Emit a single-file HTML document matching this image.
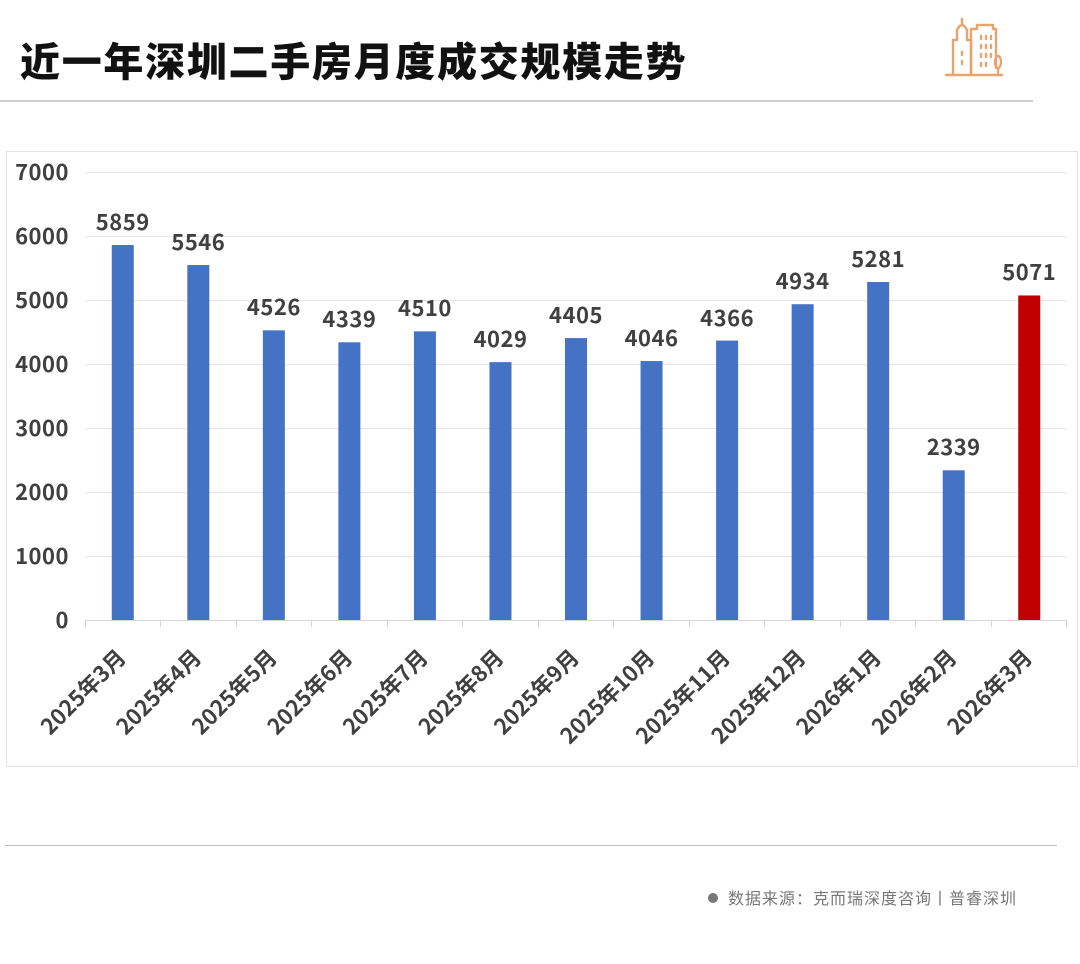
<!DOCTYPE html>
<html><head><meta charset="utf-8">
<style>
html,body{margin:0;padding:0;background:#fff;}
svg{display:block;}
text{font-family:"Liberation Sans","Noto Sans CJK SC",sans-serif;}
.cjk{font-family:"Noto Sans CJK SC","WenQuanYi Zen Hei",sans-serif;}
</style></head>
<body>
<svg width="1080" height="964" viewBox="0 0 1080 964" xmlns="http://www.w3.org/2000/svg">
<rect width="1080" height="964" fill="#fff"/>
<!-- title -->
<text class="cjk" x="20" y="76" font-size="40" font-weight="900" fill="#111" letter-spacing="1.7">近一年深圳二手房月度成交规模走势</text>
<line x1="0" y1="101" x2="1033" y2="101" stroke="#cfcfcf" stroke-width="2"/>
<!-- icon -->
<g fill="none" stroke="#E9A36C" stroke-width="2.4" stroke-linejoin="round" stroke-linecap="round">
<line x1="946" y1="75" x2="1002" y2="75"/>
<path d="M953 75 V40 H957 V30 Q962 20 967 30 V40 H971 V75"/>
<line x1="962" y1="19" x2="962" y2="24"/>
<path d="M971 75 V29 H977 V25 H993 V29 H996 V68"/>
<line x1="962" y1="52" x2="962" y2="55"/><line x1="962" y1="61" x2="962" y2="64"/>
<line x1="981" y1="36" x2="981" y2="39"/><line x1="986" y1="36" x2="986" y2="39"/><line x1="991" y1="36" x2="991" y2="39"/>
<line x1="981" y1="45" x2="981" y2="48"/><line x1="986" y1="45" x2="986" y2="48"/><line x1="991" y1="45" x2="991" y2="48"/>
<line x1="981" y1="54" x2="981" y2="57"/><line x1="986" y1="54" x2="986" y2="57"/><line x1="991" y1="54" x2="991" y2="57"/>
<line x1="981" y1="63" x2="981" y2="66"/><line x1="986" y1="63" x2="986" y2="66"/>
<ellipse cx="998" cy="62" rx="3" ry="6"/><line x1="998" y1="68" x2="998" y2="75"/>
</g>
<!-- chart frame -->
<rect x="6.5" y="151.5" width="1071" height="615" fill="none" stroke="#e2e2e2" stroke-width="1"/>
<!-- gridlines -->
<g stroke="#e6e6e6" stroke-width="1">
<line x1="85" y1="172.5" x2="1067" y2="172.5"/>
<line x1="85" y1="236.5" x2="1067" y2="236.5"/>
<line x1="85" y1="300.5" x2="1067" y2="300.5"/>
<line x1="85" y1="364.5" x2="1067" y2="364.5"/>
<line x1="85" y1="428.5" x2="1067" y2="428.5"/>
<line x1="85" y1="492.5" x2="1067" y2="492.5"/>
<line x1="85" y1="556.5" x2="1067" y2="556.5"/>
</g>
<!-- y labels -->
<g font-size="22" font-weight="700" fill="#404040" text-anchor="end" class="cjk" letter-spacing="0.5">
<text class="cjk" x="69" y="180">7000</text>
<text class="cjk" x="69" y="244">6000</text>
<text class="cjk" x="69" y="308">5000</text>
<text class="cjk" x="69" y="372">4000</text>
<text class="cjk" x="69" y="436">3000</text>
<text class="cjk" x="69" y="500">2000</text>
<text class="cjk" x="69" y="564">1000</text>
<text class="cjk" x="69" y="628">0</text>
</g>
<!-- bars -->
<g fill="#4472C4">
<rect x="111.77" y="245.02" width="22" height="374.98"/>
<rect x="187.31" y="265.06" width="22" height="354.94"/>
<rect x="262.85" y="330.34" width="22" height="289.66"/>
<rect x="338.39" y="342.30" width="22" height="277.70"/>
<rect x="413.93" y="331.36" width="22" height="288.64"/>
<rect x="489.47" y="362.14" width="22" height="257.86"/>
<rect x="565.01" y="338.08" width="22" height="281.92"/>
<rect x="640.55" y="361.06" width="22" height="258.94"/>
<rect x="716.09" y="340.58" width="22" height="279.42"/>
<rect x="791.63" y="304.22" width="22" height="315.78"/>
<rect x="867.17" y="282.02" width="22" height="337.98"/>
<rect x="942.71" y="470.30" width="22" height="149.70"/>
</g>
<rect x="1018.25" y="295.46" width="22" height="324.54" fill="#C00000"/>
<!-- axis -->
<line x1="85" y1="620.5" x2="1067" y2="620.5" stroke="#d6d6d6" stroke-width="1"/>
<g stroke="#d6d6d6" stroke-width="1">
<line x1="85.5" y1="620" x2="85.5" y2="627"/>
<line x1="160.5" y1="620" x2="160.5" y2="627"/>
<line x1="236.5" y1="620" x2="236.5" y2="627"/>
<line x1="311.5" y1="620" x2="311.5" y2="627"/>
<line x1="387.5" y1="620" x2="387.5" y2="627"/>
<line x1="462.5" y1="620" x2="462.5" y2="627"/>
<line x1="538.5" y1="620" x2="538.5" y2="627"/>
<line x1="613.5" y1="620" x2="613.5" y2="627"/>
<line x1="689.5" y1="620" x2="689.5" y2="627"/>
<line x1="764.5" y1="620" x2="764.5" y2="627"/>
<line x1="840.5" y1="620" x2="840.5" y2="627"/>
<line x1="915.5" y1="620" x2="915.5" y2="627"/>
<line x1="991.5" y1="620" x2="991.5" y2="627"/>
<line x1="1066.5" y1="620" x2="1066.5" y2="627"/>
</g>
<!-- data labels -->
<g font-size="22" font-weight="700" fill="#404040" text-anchor="middle" letter-spacing="0.5">
<text class="cjk" x="122.77" y="230">5859</text>
<text class="cjk" x="198.31" y="250">5546</text>
<text class="cjk" x="273.85" y="315">4526</text>
<text class="cjk" x="349.39" y="327">4339</text>
<text class="cjk" x="424.93" y="316">4510</text>
<text class="cjk" x="500.47" y="347">4029</text>
<text class="cjk" x="576.01" y="323">4405</text>
<text class="cjk" x="651.55" y="346">4046</text>
<text class="cjk" x="727.09" y="326">4366</text>
<text class="cjk" x="802.63" y="289">4934</text>
<text class="cjk" x="878.17" y="267">5281</text>
<text class="cjk" x="953.71" y="455">2339</text>
<text class="cjk" x="1029.25" y="280">5071</text>
</g>
<!-- x labels -->
<g font-size="22" font-weight="700" fill="#404040" text-anchor="end">
<text class="cjk" transform="translate(127.3,659) rotate(-45)">2025年3月</text>
<text class="cjk" transform="translate(202.8,659) rotate(-45)">2025年4月</text>
<text class="cjk" transform="translate(278.4,659) rotate(-45)">2025年5月</text>
<text class="cjk" transform="translate(353.9,659) rotate(-45)">2025年6月</text>
<text class="cjk" transform="translate(429.4,659) rotate(-45)">2025年7月</text>
<text class="cjk" transform="translate(505.0,659) rotate(-45)">2025年8月</text>
<text class="cjk" transform="translate(580.5,659) rotate(-45)">2025年9月</text>
<text class="cjk" transform="translate(656.0,659) rotate(-45)">2025年10月</text>
<text class="cjk" transform="translate(731.6,659) rotate(-45)">2025年11月</text>
<text class="cjk" transform="translate(807.1,659) rotate(-45)">2025年12月</text>
<text class="cjk" transform="translate(882.7,659) rotate(-45)">2026年1月</text>
<text class="cjk" transform="translate(958.2,659) rotate(-45)">2026年2月</text>
<text class="cjk" transform="translate(1033.7,659) rotate(-45)">2026年3月</text>
</g>
<!-- footer -->
<line x1="5" y1="845.5" x2="1057" y2="845.5" stroke="#bdbdbd" stroke-width="1"/>
<circle cx="713" cy="898" r="5" fill="#777"/>
<text class="cjk" x="728" y="904" font-size="16" fill="#777" letter-spacing="1">数据来源：克而瑞深度咨询丨普睿深圳</text>
</svg>
</body></html>
